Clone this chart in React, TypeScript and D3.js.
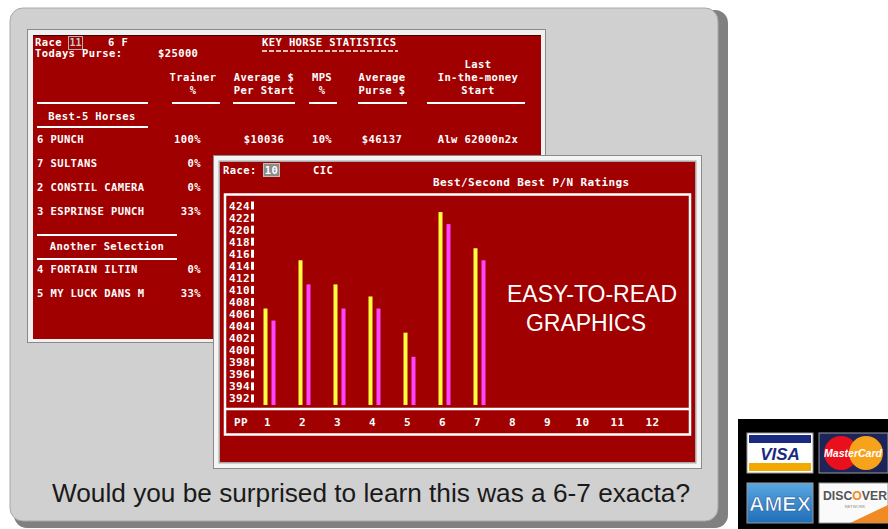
import React from "react";
import * as d3 from "d3";

// ratings chart data (front window)
const horses = ["1", "2", "3", "4", "5", "6", "7", "8", "9", "10", "11", "12"];
const bestRating = [406, 414, 410, 408, 402, 422, 416];
const secondRating = [404, 410, 406, 406, 398, 420, 414];
const ratingTicks = [424, 422, 420, 418, 416, 414, 412, 410, 408, 406, 404, 402, 400, 398, 396, 394, 392];

// key horse statistics (back window)
const statHeaders = [
  ["", "Trainer", "%"],
  ["", "Average $", "Per Start"],
  ["", "MPS", "%"],
  ["", "Average", "Purse $"],
  ["Last", "In-the-money", "Start"],
];
const bestHorses = ["6 PUNCH", "7 SULTANS", "2 CONSTIL CAMERA", "3 ESPRINSE PUNCH"];
const bestTrainerPct = ["100%", "0%", "0%", "33%"];
const topHorseStats = ["$10036", "10%", "$46137", "Alw 62000n2x"];
const otherHorses = ["4 FORTAIN ILTIN", "5 MY LUCK DANS M"];
const otherTrainerPct = ["0%", "33%"];

const RED = "#a00000";
const PIX = "'DejaVu Sans Mono', monospace";

function Pix({ x, y, children, anchor = "start", size = 10.5 }: any) {
  return (
    <text x={x} y={y} fill="#fff" fontFamily={PIX} fontWeight="bold" fontSize={size}
      letterSpacing={0.4} textAnchor={anchor}>{children}</text>
  );
}

export default function App() {
  const x = d3.scaleBand().domain(horses).range([250, 670]);
  const y = d3.scaleLinear().domain([390, 424]).range([405, 200]);
  const cx = (i: number) => (x(horses[i]) as number) + x.bandwidth() / 2;

  const colX = [193, 264, 322, 382, 478];
  const sepLines = [[37, 148], [172, 220], [233, 295], [309, 337], [358, 407], [427, 525]];

  return (
    <svg width={888} height={529} style={{ position: "absolute", left: 0, top: 0, background: "#fff" }}>
      {/* outer panel */}
      <rect x={14} y={10} width={714} height={518} rx={13} fill="#808080" />
      <rect x={10} y={8} width={708} height={513} rx={13} fill="#d0d0d0" stroke="#a8a8a8" />

      {/* back window */}
      <rect x={27.5} y={29.5} width={518} height={313} fill="#f0f0f0" stroke="#8a8a8a" />
      <rect x={33} y={35} width={508} height={304} fill={RED} />
      <line x1={33} x2={541} y1={35.5} y2={35.5} stroke="#400" />
      <Pix x={35} y={46}>Race</Pix>
      <rect x={68.5} y={36.5} width={14} height={13} fill="none" stroke="#b0b0b0" />
      <text x={75.5} y={46} fill="#c8c8c8" fontFamily={PIX} fontWeight="bold" fontSize={10} textAnchor="middle">11</text>
      <Pix x={108} y={46}>6 F</Pix>
      <Pix x={262} y={46}>KEY HORSE  STATISTICS</Pix>
      <line x1={262} x2={398} y1={51} y2={51} stroke="#fff" strokeWidth={1.5} strokeDasharray="5,2" />
      <Pix x={35} y={57}>Todays Purse:</Pix>
      <Pix x={158} y={57}>$25000</Pix>
      {statHeaders.map((h, i) =>
        h.map((t, j) => (
          <Pix key={`${i}-${j}`} x={colX[i]} y={68 + j * 13} anchor="middle">{t}</Pix>
        ))
      )}
      {sepLines.map(([a, b], i) => (
        <line key={i} x1={a} x2={b} y1={103} y2={103} stroke="#fff" strokeWidth={2} />
      ))}
      <Pix x={92} y={120} anchor="middle">Best-5 Horses</Pix>
      <line x1={37} x2={148} y1={127} y2={127} stroke="#fff" strokeWidth={2} />
      {bestHorses.map((h, i) => (
        <g key={h}>
          <Pix x={37} y={143 + i * 24}>{h}</Pix>
          <Pix x={201} y={143 + i * 24} anchor="end">{bestTrainerPct[i]}</Pix>
        </g>
      ))}
      {topHorseStats.map((t, i) => (
        <Pix key={t} x={colX[i + 1]} y={143} anchor="middle">{t}</Pix>
      ))}
      <line x1={37} x2={177} y1={235} y2={235} stroke="#fff" strokeWidth={2} />
      <Pix x={107} y={250} anchor="middle">Another Selection</Pix>
      <line x1={37} x2={177} y1={259} y2={259} stroke="#fff" strokeWidth={2} />
      {otherHorses.map((h, i) => (
        <g key={h}>
          <Pix x={37} y={273 + i * 24}>{h}</Pix>
          <Pix x={201} y={273 + i * 24} anchor="end">{otherTrainerPct[i]}</Pix>
        </g>
      ))}

      {/* front window */}
      <rect x={213.5} y={155.5} width={488} height={313} fill="#f4f4f4" stroke="#8a8a8a" />
      <rect x={218.5} y={160.5} width={478} height={303} fill="#a8a8a8" />
      <rect x={220} y={162} width={475} height={300} fill={RED} />
      <Pix x={223} y={174}>Race:</Pix>
      <rect x={263.5} y={163.5} width={16} height={13} fill="#8c8c8c" stroke="#bdbdbd" />
      <Pix x={271.5} y={174} anchor="middle">10</Pix>
      <Pix x={313} y={174}>CIC</Pix>
      <Pix x={433} y={186} size={11}>Best/Second Best P/N Ratings</Pix>

      {/* chart box */}
      <rect x={225} y={194.5} width={465} height={240} fill="none" stroke="#fff" strokeWidth={2.5} />
      <line x1={225} x2={690} y1={409} y2={409} stroke="#fff" strokeWidth={2.5} />

      {ratingTicks.map((t) => (
        <g key={t}>
          <Pix x={229} y={y(t) + 9.5} size={11}>{t}</Pix>
          <rect x={251} y={y(t) + 1.5} width={3} height={8} fill="#fff" />
        </g>
      ))}

      {bestRating.map((v, i) => (
        <rect key={`b${i}`} x={cx(i) - 4} y={y(v)} width={4} height={y(390) - y(v)} fill="#ffff40" />
      ))}
      {secondRating.map((v, i) => (
        <rect key={`s${i}`} x={cx(i) + 4} y={y(v)} width={4} height={y(390) - y(v)} fill="#ff44ff" />
      ))}

      <Pix x={241} y={426} anchor="middle" size={11}>PP</Pix>
      {horses.map((h, i) => (
        <Pix key={h} x={cx(i)} y={426} anchor="middle" size={11}>{h}</Pix>
      ))}

      <text x={592} y={302} fill="#fff" fontFamily="'Liberation Sans', Arial, sans-serif" fontSize={23} textAnchor="middle">EASY-TO-READ</text>
      <text x={586} y={331} fill="#fff" fontFamily="'Liberation Sans', Arial, sans-serif" fontSize={23} textAnchor="middle">GRAPHICS</text>

      {/* caption */}
      <text x={52} y={502} fill="#1a1a1a" fontFamily="'Liberation Sans Narrow', 'Liberation Sans', Arial, sans-serif"
        fontSize={25} textLength={638} lengthAdjust="spacingAndGlyphs">
        Would you be surprised to learn this was a 6-7 exacta?
      </text>

      {/* card logos */}
      <rect x={738} y={419} width={150} height={110} fill="#000" />
      <g>
        <rect x={747} y={433} width={66} height={40} fill="#fff" stroke="#999" />
        <rect x={749} y={435} width={62} height={8} fill="#1a2a80" />
        <rect x={749} y={463} width={62} height={8} fill="#f2a900" />
        <text x={780} y={460} fill="#1a2a80" fontFamily="'Liberation Sans', Arial" fontWeight="bold"
          fontStyle="italic" fontSize={17} textAnchor="middle">VISA</text>
      </g>
      <g>
        <rect x={819} y={433} width={69} height={40} fill="#1c2458" stroke="#999" />
        <circle cx={841} cy={453} r={17} fill="#e8101c" />
        <circle cx={866} cy={453} r={17} fill="#f7a21b" />
        <text x={853} y={457} fill="#fff" fontFamily="'Liberation Sans', Arial" fontWeight="bold"
          fontStyle="italic" fontSize={11} textAnchor="middle" textLength={58} lengthAdjust="spacingAndGlyphs">MasterCard</text>
      </g>
      <g>
        <defs>
          <linearGradient id="amex" x1="0" y1="0" x2="0" y2="1">
            <stop offset="0" stopColor="#5aa7e0" />
            <stop offset="1" stopColor="#1f6db8" />
          </linearGradient>
        </defs>
        <rect x={747} y={483} width={66} height={40} fill="url(#amex)" stroke="#999" />
        <text x={780} y={511} fill="#fff" stroke="#1a5aa0" strokeWidth={0.6} fontFamily="'Liberation Sans', Arial"
          fontWeight="bold" fontSize={20} textAnchor="middle" textLength={62} lengthAdjust="spacingAndGlyphs">AMEX</text>
      </g>
      <g>
        <rect x={819} y={483} width={69} height={40} fill="#fafafa" stroke="#999" />
        <path d="M 850 523 L 888 505 L 888 523 Z" fill="#f08a24" />
        <text x={823} y={500} fill="#555" fontFamily="'Liberation Sans', Arial" fontWeight="bold"
          fontSize={12} textLength={64} lengthAdjust="spacingAndGlyphs">DISC<tspan fill="#f08a24">O</tspan>VER</text>
        <text x={855} y={508} fill="#888" fontFamily="'Liberation Sans', Arial" fontSize={4} textAnchor="middle">NETWORK</text>
      </g>
    </svg>
  );
}
